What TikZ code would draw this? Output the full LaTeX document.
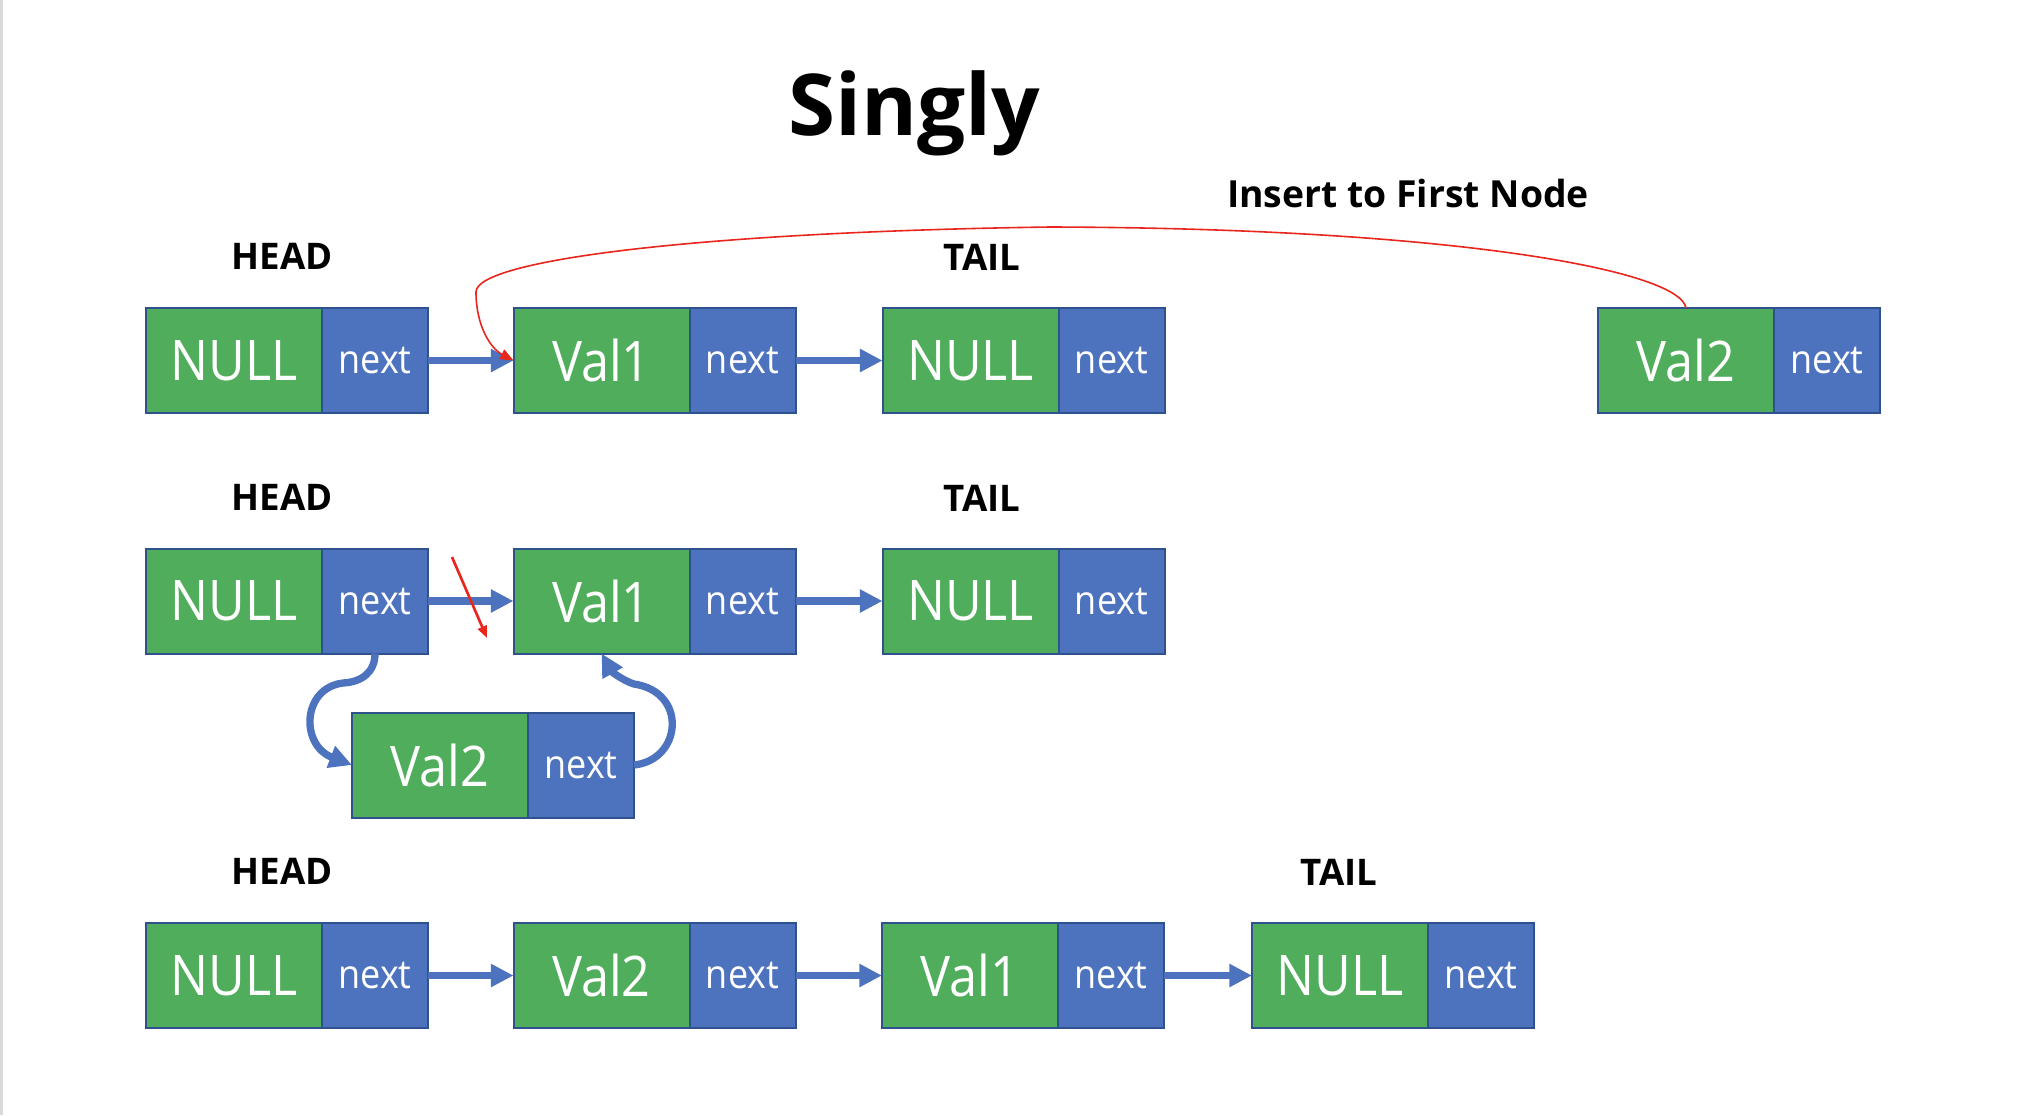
\documentclass[tikz,border=0pt]{standalone}
\usepackage{fontspec}
\setmainfont{Open Sans}
\newfontfamily\cellfont{Open Sans}[FakeStretch=0.9]
\usepackage{tikz}
\usetikzlibrary{positioning,arrows.meta}

\definecolor{valgreen}{RGB}{80,173,91}
\definecolor{nextblue}{RGB}{78,115,190}
\definecolor{edgeblue}{RGB}{47,82,143}
\definecolor{insertred}{RGB}{232,38,30}
\definecolor{pagegray}{RGB}{217,217,217}

\tikzset{
  valbox/.style={draw=edgeblue,line width=1.5pt,fill=valgreen,text=white,minimum width=132pt,minimum height=78.75pt,inner sep=0pt,outer sep=0pt,font=\cellfont\fontsize{42}{42}\selectfont},
  nextbox/.style={draw=edgeblue,line width=1.5pt,fill=nextblue,text=white,minimum width=79.5pt,minimum height=78.75pt,inner sep=0pt,outer sep=0pt,font=\cellfont\fontsize{30}{30}\selectfont},
  endlabel/.style={anchor=base,font=\bfseries\fontsize{27.5}{27.5}\selectfont},
  link/.style={draw=nextblue,line width=5.5pt,-{Triangle[length=17pt,width=16.5pt]}},
  redlink/.style={draw=insertred,line width=1.2pt,-{Triangle[length=10pt,width=8pt]}},
  strike/.style={draw=insertred,line width=2pt,-{Triangle[length=9pt,width=7pt]}}
}

\begin{document}
\begin{tikzpicture}[x=0.75pt,y=0.75pt,yscale=-1,xscale=1]
  \useasboundingbox (0,0) rectangle (2018,1115);
  \fill[pagegray] (0.5,0) rectangle (3,1115);

  \node[anchor=base,font=\bfseries\fontsize{64}{64}\selectfont] (title) at (914,135) {Singly};
  \node[anchor=base,font=\bfseries\fontsize{28}{28}\selectfont] (insert) at (1408,207) {Insert to First Node};

  % row 1
  \node[endlabel] (hd1) at (282,269) {HEAD};
  \node[endlabel] (tl1) at (982,270) {TAIL};
  \node[valbox] (a1) at (234,360.5) {NULL};
  \node[nextbox, right=0pt of a1] (a1n) {next};
  \node[valbox] (b1) at (601.5,360.5) {Val1};
  \node[nextbox, right=0pt of b1] (b1n) {next};
  \node[valbox] (c1) at (970.5,360.5) {NULL};
  \node[nextbox, right=0pt of c1] (c1n) {next};
  \node[valbox] (f1) at (1686,360.5) {Val2};
  \node[nextbox, right=0pt of f1] (f1n) {next};
  \draw[link] (a1n) -- (b1);
  \draw[link] (b1n) -- (c1);
  \draw[redlink] (f1.north) .. controls (1680,270) and (1450,228) .. (1050,227) .. controls (700,232) and (476,260) .. (476,292) .. controls (476,325) and (490,348) .. (b1.west);

  % row 2
  \node[endlabel] (hd2) at (282,510) {HEAD};
  \node[endlabel] (tl2) at (982,511) {TAIL};
  \node[valbox] (a2) at (234,601) {NULL};
  \node[nextbox, right=0pt of a2] (a2n) {next};
  \node[valbox] (b2) at (601.5,601) {Val1};
  \node[nextbox, right=0pt of b2] (b2n) {next};
  \node[valbox] (c2) at (970.5,601) {NULL};
  \node[nextbox, right=0pt of c2] (c2n) {next};
  \node[valbox] (v2) at (440,765) {Val2};
  \node[nextbox, right=0pt of v2] (v2n) {next};
  \draw[link] (a2n) -- (b2);
  \draw[link] (b2n) -- (c2);
  \draw[link] (a2n.south) .. controls (375,672) and (362,682) .. (343,683) .. controls (302,688) and (300,745) .. (v2.west);
  \draw[link] (v2n.east) .. controls (682,760) and (688,692) .. (634,684) .. controls (624,681) and (612,672) .. (b2.south);
  \coordinate (cutS) at (452,557);
  \coordinate (cutE) at (487,638);
  \draw[strike] (cutS) -- (cutE);

  % row 3
  \node[endlabel] (hd3) at (282,884) {HEAD};
  \node[endlabel] (tl3) at (1339,885) {TAIL};
  \node[valbox] (a3) at (234,975.5) {NULL};
  \node[nextbox, right=0pt of a3] (a3n) {next};
  \node[valbox] (b3) at (601.5,975.5) {Val2};
  \node[nextbox, right=0pt of b3] (b3n) {next};
  \node[valbox] (c3) at (970,975.5) {Val1};
  \node[nextbox, right=0pt of c3] (c3n) {next};
  \node[valbox] (d3) at (1340,975.5) {NULL};
  \node[nextbox, right=0pt of d3] (d3n) {next};
  \draw[link] (a3n) -- (b3);
  \draw[link] (b3n) -- (c3);
  \draw[link] (c3n) -- (d3);
\end{tikzpicture}
\end{document}
